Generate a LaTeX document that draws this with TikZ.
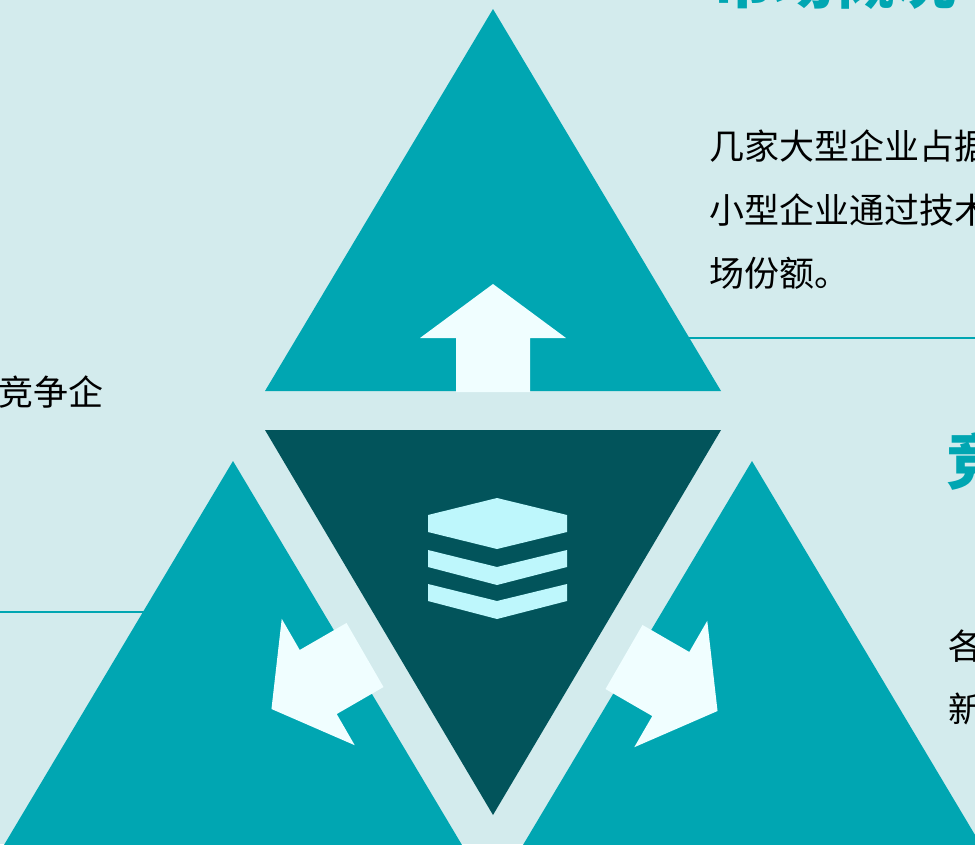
\documentclass[tikz,border=0pt]{standalone}
\usepackage{fontspec}
\usepackage{tikz}
\newfontfamily\cjk{Noto Sans CJK SC}
\definecolor{bg-light}{HTML}{D3EBED}
\definecolor{tri-teal}{HTML}{00A6B2}
\definecolor{tri-dark}{HTML}{02545B}
\definecolor{arrow-white}{HTML}{F0FEFF}
\definecolor{layer-cyan}{HTML}{BEF7FC}

\begin{document}
\begin{tikzpicture}[x=1pt, y=-1pt,
    bodytext/.style={anchor=base west, inner sep=0pt, font=\cjk\fontsize{35}{42}\selectfont, text=black},
    headtext/.style={anchor=base west, inner sep=0pt, font=\cjk\bfseries\fontsize{61}{70}\selectfont, text=tri-teal}]
    \useasboundingbox (0,0) rectangle (975,844);
    \clip (0,0) rectangle (975,844);
    \fill[bg-light] (0,0) rectangle (975,844);

    % Rules behind the triangles
    \draw[tri-teal, line width=1.5pt] (660,338) -- (975,338);
    \draw[tri-teal, line width=1.5pt] (0,612) -- (180,612);

    % Draw triangles
    \fill[tri-teal] (493,9) -- (721,391) -- (265,391) -- cycle;
    \fill[tri-dark] (265,430) -- (721,430) -- (493,815) -- cycle;
    \fill[tri-teal] (233,461) -- (465,850) -- (1,850) -- cycle;
    \fill[tri-teal] (752,461) -- (984,850) -- (520,850) -- cycle;

    % Arrows
    \foreach \ax/\ay/\ang in {493/392/0, 365/655/120, 624/657/-120} {
        \fill[arrow-white, shift={(\ax,\ay)}, rotate=\ang]
            (-37,0) -- (37,0) -- (37,-54) -- (73,-54) -- (0,-108)
            -- (-73,-54) -- (-37,-54) -- cycle;
    }

    % Layers icon
    \fill[layer-cyan] (497,498) -- (567,515) -- (567,532) -- (497,549)
        -- (428,532) -- (428,515) -- cycle;
    \foreach \ly in {550, 584} {
        \fill[layer-cyan] (428,\ly) -- (497,\ly+17) -- (567,\ly) -- (567,\ly+17)
            -- (497,\ly+35) -- (428,\ly+17) -- cycle;
    }

    % Labels
    \node[headtext] (title-market) at (712,3) {市场概况};
    \node[bodytext] (market-l1) at (709,159) {几家大型企业占据};
    \node[bodytext] (market-l2) at (709,223) {小型企业通过技术};
    \node[bodytext] (market-l3) at (709,286) {场份额。};
    \node[bodytext, anchor=base east] (left-l1) at (104,405) {竞争企};
    \node[headtext] (title-compete) at (946,484) {竞争};
    \node[bodytext] (compete-l1) at (948,659) {各};
    \node[bodytext] (compete-l2) at (948,722) {新};
\end{tikzpicture}
\end{document}
